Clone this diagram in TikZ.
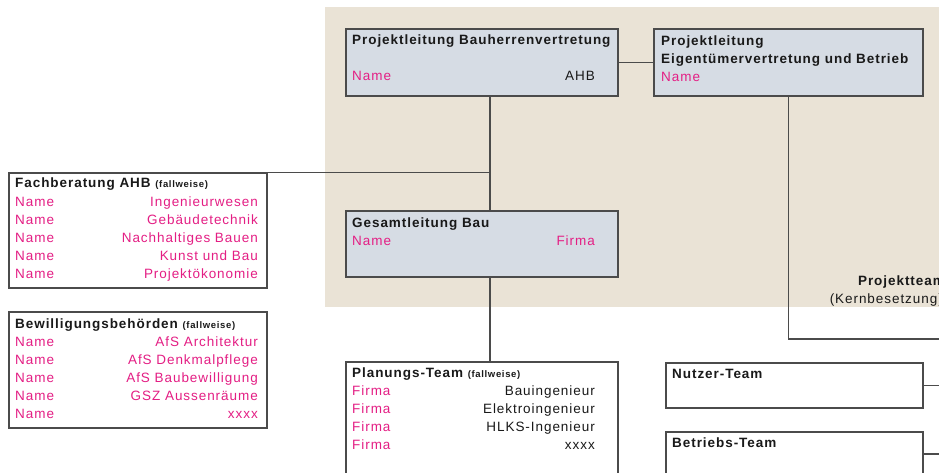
\documentclass[tikz,border=0pt]{standalone}
\usepackage{fontspec}
\setmainfont{Liberation Sans}[LetterSpace=7]

\definecolor{namepink}{RGB}{228,30,132}
\definecolor{boxblue}{RGB}{214,220,228}
\definecolor{corebeige}{RGB}{234,227,214}
\definecolor{framegray}{RGB}{75,75,75}

\newcommand{\boxfont}{\fontsize{13.5}{16}\selectfont}
\newcommand{\fallw}{\fontsize{9.5}{11}\selectfont}

\tikzset{
  box/.style={shape=rectangle, draw=framegray, line width=1.1pt, fill=white, inner sep=0pt},
  greybox/.style={box, fill=boxblue},
  title/.style={inner sep=0pt, anchor=base west, font=\boxfont\bfseries, text=black!90},
  lefttxt/.style={inner sep=0pt, anchor=base west, font=\boxfont, text=namepink},
  righttxt/.style={inner sep=0pt, anchor=base east, font=\boxfont, text=black!90},
  link/.style={draw=framegray, line width=1.1pt}
}

\begin{document}
\begin{tikzpicture}[x=1pt, y=-1pt]
\useasboundingbox (0,0) rectangle (939,473);

%background of the core team
\fill[corebeige] (325,7) rectangle (960,307);

%helper coordinates
\coordinate (spine) at (490,0);
\coordinate (kern) at (960,339);
\coordinate (rim) at (960,0);

%draw top boxes
\node [greybox, minimum width=272, minimum height=67] at (482,62.5) (plb) {};
\node [greybox, minimum width=269, minimum height=67] at (788.5,62.5) (ple) {};
\node [greybox, minimum width=272, minimum height=66] at (482,244) (gl) {};

%draw side boxes
\node [box, minimum width=258, minimum height=115] at (138,230.5) (fb) {};
\node [box, minimum width=258, minimum height=116] at (138,370) (bw) {};

%draw team boxes
\node [box, minimum width=272, minimum height=118] at (482,421) (pt) {};
\node [box, minimum width=257, minimum height=45] at (794.5,385.5) (nt) {};
\node [box, minimum width=257, minimum height=44] at (794.5,454) (bt) {};

%lines between the boxes
\draw [link] (plb) -- (ple);
\draw [link] (plb.south -| spine) -- (gl.north -| spine);
\draw [link] (gl.south -| spine) -- (pt.north -| spine);
\draw [link] (fb.north east) -- (fb.north east -| spine);
\draw [link] (ple.south) |- (kern);
\draw [link] (nt.east) -- (nt.east -| rim);
\draw [link] (bt.east) -- (bt.east -| rim);

%texts of the top boxes
\node [title] at (352,45) (plbtitle) {Projektleitung Bauherrenvertretung};
\node [lefttxt] at (352,81) (plbname) {Name};
\node [righttxt] at (595,81) (plbahb) {AHB};

\node [title] at (661,46) (pletitle) {Projektleitung};
\node [title] at (661,64) (pletitlb) {Eigentümervertretung und Betrieb};
\node [lefttxt] at (661,82) (plename) {Name};

\node [title] at (352,227) (gltitle) {Gesamtleitung Bau};
\node [lefttxt] at (352,245) (glname) {Name};
\node [righttxt, text=namepink] at (595,245) (glfirma) {Firma};

%core team label
\node [title, anchor=base east] at (945,285) (kerntitle) {Projektteam};
\node [righttxt] at (943,303) (kernsub) {(Kernbesetzung)};

%texts of the side boxes
\node [title] at (15,188) (fbtitle) {Fachberatung AHB {\fallw (fallweise)}};
\foreach \what [count=\i] in {Ingenieurwesen, Gebäudetechnik, Nachhaltiges Bauen, Kunst und Bau, Projektökonomie}
{
  \node [lefttxt] at (15,188+18*\i) (fbl\i) {Name};
  \node [righttxt, text=namepink] at (258,188+18*\i) (fbr\i) {\what};
}

\node [title] at (15,328) (bwtitle) {Bewilligungsbehörden {\fallw (fallweise)}};
\foreach \what [count=\i] in {AfS Architektur, AfS Denkmalpflege, AfS Baubewilligung, GSZ Aussenräume, xxxx}
{
  \node [lefttxt] at (15,328+18*\i) (bwl\i) {Name};
  \node [righttxt, text=namepink] at (258,328+18*\i) (bwr\i) {\what};
}

%texts of the team boxes
\node [title] at (352,377) (pttitle) {Planungs-Team {\fallw (fallweise)}};
\foreach \what [count=\i] in {Bauingenieur, Elektroingenieur, HLKS-Ingenieur, xxxx}
{
  \node [lefttxt] at (352,377+18*\i) (ptl\i) {Firma};
  \node [righttxt] at (595,377+18*\i) (ptr\i) {\what};
}

\node [title] at (672,378) (nttitle) {Nutzer-Team};
\node [title] at (672,447) (bttitle) {Betriebs-Team};
\end{tikzpicture}
\end{document}
